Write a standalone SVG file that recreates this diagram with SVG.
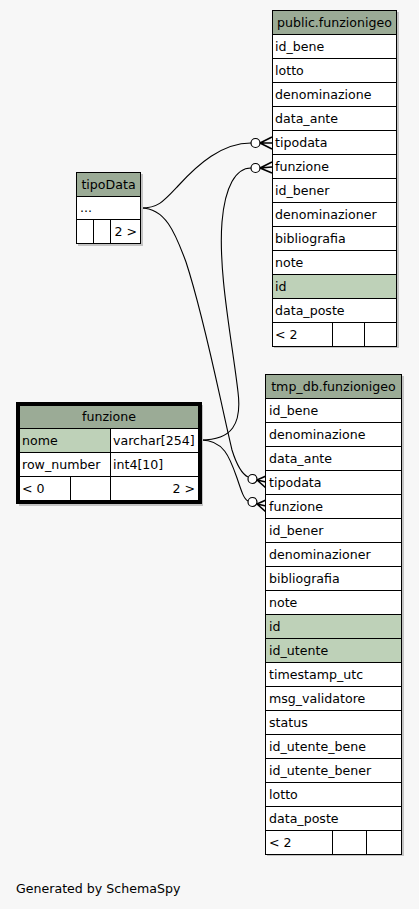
<svg xmlns="http://www.w3.org/2000/svg" width="419" height="909" viewBox="0 0 419 909">
<style>
.bg{fill:#f7f7f7}
.sh{fill:#c4c4c4}
.c{fill:#fff;stroke:#000;stroke-width:1}
.h{fill:#9bab96;stroke:#000;stroke-width:1}
.k{fill:#bed1b8;stroke:#000;stroke-width:1}
text{font-family:"DejaVu Sans","Liberation Sans",sans-serif;font-size:12.6px;fill:#000}
.m{text-anchor:middle}
.r{text-anchor:end}
.e{fill:none;stroke:#000;stroke-width:1.1}
.f{fill:none;stroke:#000;stroke-width:1.6}
.o{fill:#fff;stroke:#000;stroke-width:1.2}
</style>
<rect class="bg" x="0" y="0" width="419" height="909"/>

<g id="connectors">
  <path class="e" d="M141,208 C158,208 163,202 178,186 C198,164 222,143 251,143"/>
  <circle class="o" cx="255.5" cy="143" r="4.5"/>
  <path class="f" d="M260,143 L272,137 M260,143 L272,143 M260,143 L272,149"/>

  <path class="e" d="M141,208 C165,208 175,232 186,262 C205,320 220,400 232,450 C237,466 242,474 248,477"/>
  <circle class="o" cx="252.5" cy="479" r="4.5"/>
  <path class="f" d="M257,480 L266,476 M257,480 L266,482 M257,480 L266,488"/>

  <path class="e" d="M201,440 C232,440 242,424 238,392 C232,340 218,272 222,222 C225,186 236,168 251,168"/>
  <circle class="o" cx="255.5" cy="168" r="4.5"/>
  <path class="f" d="M260,168 L272,162 M260,168 L272,167 M260,168 L272,173"/>

  <path class="e" d="M201,440 C224,440 230,458 237,478 C242,493 244,499 248,501"/>
  <circle class="o" cx="252.5" cy="502" r="4.5"/>
  <path class="f" d="M257,504 L266,500 M257,504 L266,506 M257,504 L266,512"/>
</g>

<g id="tipoData">
  <rect class="sh" x="78" y="174" width="65" height="72"/>
  <rect class="h" x="76.5" y="172.5" width="64" height="24"/>
  <rect class="c" x="76.5" y="196.5" width="64" height="23"/>
  <rect class="c" x="76.5" y="219.5" width="17" height="24"/>
  <rect class="c" x="93.5" y="219.5" width="17" height="24"/>
  <rect class="c" x="110.5" y="219.5" width="30" height="24"/>
  <text class="m" x="108.5" y="189">tipoData</text>
  <text x="80" y="212">...</text>
  <text class="r" x="137" y="236">2 &gt;</text>
</g>

<g id="funzione">
  <rect class="sh" x="19" y="405" width="184" height="101"/>
  <rect x="17.5" y="403.5" width="183" height="99" fill="#fff" stroke="#000" stroke-width="3"/>
  <rect class="h" x="19.5" y="405.5" width="179" height="23"/>
  <rect class="k" x="19.5" y="428.5" width="91" height="24"/>
  <rect class="c" x="110.5" y="428.5" width="88" height="24"/>
  <rect class="c" x="19.5" y="452.5" width="91" height="24"/>
  <rect class="c" x="110.5" y="452.5" width="88" height="24"/>
  <rect class="c" x="19.5" y="476.5" width="51" height="24"/>
  <rect class="c" x="70.5" y="476.5" width="40" height="24"/>
  <rect class="c" x="110.5" y="476.5" width="88" height="24"/>
  <text class="m" x="109" y="421">funzione</text>
  <text x="22" y="445">nome</text>
  <text x="113" y="445">varchar[254]</text>
  <text x="22" y="469">row_number</text>
  <text x="113" y="469">int4[10]</text>
  <text x="22" y="493">&lt; 0</text>
  <text class="r" x="195" y="493">2 &gt;</text>
</g>

<g id="public.funzionigeo">
  <rect class="sh" x="274" y="12" width="125" height="336"/>
  <rect class="h" x="272.5" y="10.5" width="124" height="24"/>
  <rect class="c" x="272.5" y="34.5" width="124" height="24"/>
  <rect class="c" x="272.5" y="58.5" width="124" height="24"/>
  <rect class="c" x="272.5" y="82.5" width="124" height="24"/>
  <rect class="c" x="272.5" y="106.5" width="124" height="24"/>
  <rect class="c" x="272.5" y="130.5" width="124" height="24"/>
  <rect class="c" x="272.5" y="154.5" width="124" height="24"/>
  <rect class="c" x="272.5" y="178.5" width="124" height="24"/>
  <rect class="c" x="272.5" y="202.5" width="124" height="24"/>
  <rect class="c" x="272.5" y="226.5" width="124" height="24"/>
  <rect class="c" x="272.5" y="250.5" width="124" height="24"/>
  <rect class="k" x="272.5" y="274.5" width="124" height="24"/>
  <rect class="c" x="272.5" y="298.5" width="124" height="24"/>
  <rect class="c" x="272.5" y="322.5" width="60" height="24"/>
  <rect class="c" x="332.5" y="322.5" width="32" height="24"/>
  <rect class="c" x="364.5" y="322.5" width="32" height="24"/>
  <text class="m" x="334.5" y="27">public.funzionigeo</text>
  <text x="275" y="51">id_bene</text>
  <text x="275" y="75">lotto</text>
  <text x="275" y="99">denominazione</text>
  <text x="275" y="123">data_ante</text>
  <text x="275" y="147">tipodata</text>
  <text x="275" y="171">funzione</text>
  <text x="275" y="195">id_bener</text>
  <text x="275" y="219">denominazioner</text>
  <text x="275" y="243">bibliografia</text>
  <text x="275" y="267">note</text>
  <text x="275" y="291">id</text>
  <text x="275" y="315">data_poste</text>
  <text x="275" y="339">&lt; 2</text>
</g>

<g id="tmp_db.funzionigeo">
  <rect class="sh" x="267" y="376" width="137" height="480"/>
  <rect class="h" x="265.5" y="374.5" width="136" height="24"/>
  <rect class="c" x="265.5" y="398.5" width="136" height="24"/>
  <rect class="c" x="265.5" y="422.5" width="136" height="24"/>
  <rect class="c" x="265.5" y="446.5" width="136" height="24"/>
  <rect class="c" x="265.5" y="470.5" width="136" height="24"/>
  <rect class="c" x="265.5" y="494.5" width="136" height="24"/>
  <rect class="c" x="265.5" y="518.5" width="136" height="24"/>
  <rect class="c" x="265.5" y="542.5" width="136" height="24"/>
  <rect class="c" x="265.5" y="566.5" width="136" height="24"/>
  <rect class="c" x="265.5" y="590.5" width="136" height="24"/>
  <rect class="k" x="265.5" y="614.5" width="136" height="24"/>
  <rect class="k" x="265.5" y="638.5" width="136" height="24"/>
  <rect class="c" x="265.5" y="662.5" width="136" height="24"/>
  <rect class="c" x="265.5" y="686.5" width="136" height="24"/>
  <rect class="c" x="265.5" y="710.5" width="136" height="24"/>
  <rect class="c" x="265.5" y="734.5" width="136" height="24"/>
  <rect class="c" x="265.5" y="758.5" width="136" height="24"/>
  <rect class="c" x="265.5" y="782.5" width="136" height="24"/>
  <rect class="c" x="265.5" y="806.5" width="136" height="24"/>
  <rect class="c" x="265.5" y="830.5" width="67" height="24"/>
  <rect class="c" x="332.5" y="830.5" width="34" height="24"/>
  <rect class="c" x="366.5" y="830.5" width="35" height="24"/>
  <text class="m" x="333.5" y="391">tmp_db.funzionigeo</text>
  <text x="269" y="415">id_bene</text>
  <text x="269" y="439">denominazione</text>
  <text x="269" y="463">data_ante</text>
  <text x="269" y="487">tipodata</text>
  <text x="269" y="511">funzione</text>
  <text x="269" y="535">id_bener</text>
  <text x="269" y="559">denominazioner</text>
  <text x="269" y="583">bibliografia</text>
  <text x="269" y="607">note</text>
  <text x="269" y="631">id</text>
  <text x="269" y="655">id_utente</text>
  <text x="269" y="679">timestamp_utc</text>
  <text x="269" y="703">msg_validatore</text>
  <text x="269" y="727">status</text>
  <text x="269" y="751">id_utente_bene</text>
  <text x="269" y="775">id_utente_bener</text>
  <text x="269" y="799">lotto</text>
  <text x="269" y="823">data_poste</text>
  <text x="269" y="847">&lt; 2</text>
</g>

<text x="16" y="893">Generated by SchemaSpy</text>
</svg>
